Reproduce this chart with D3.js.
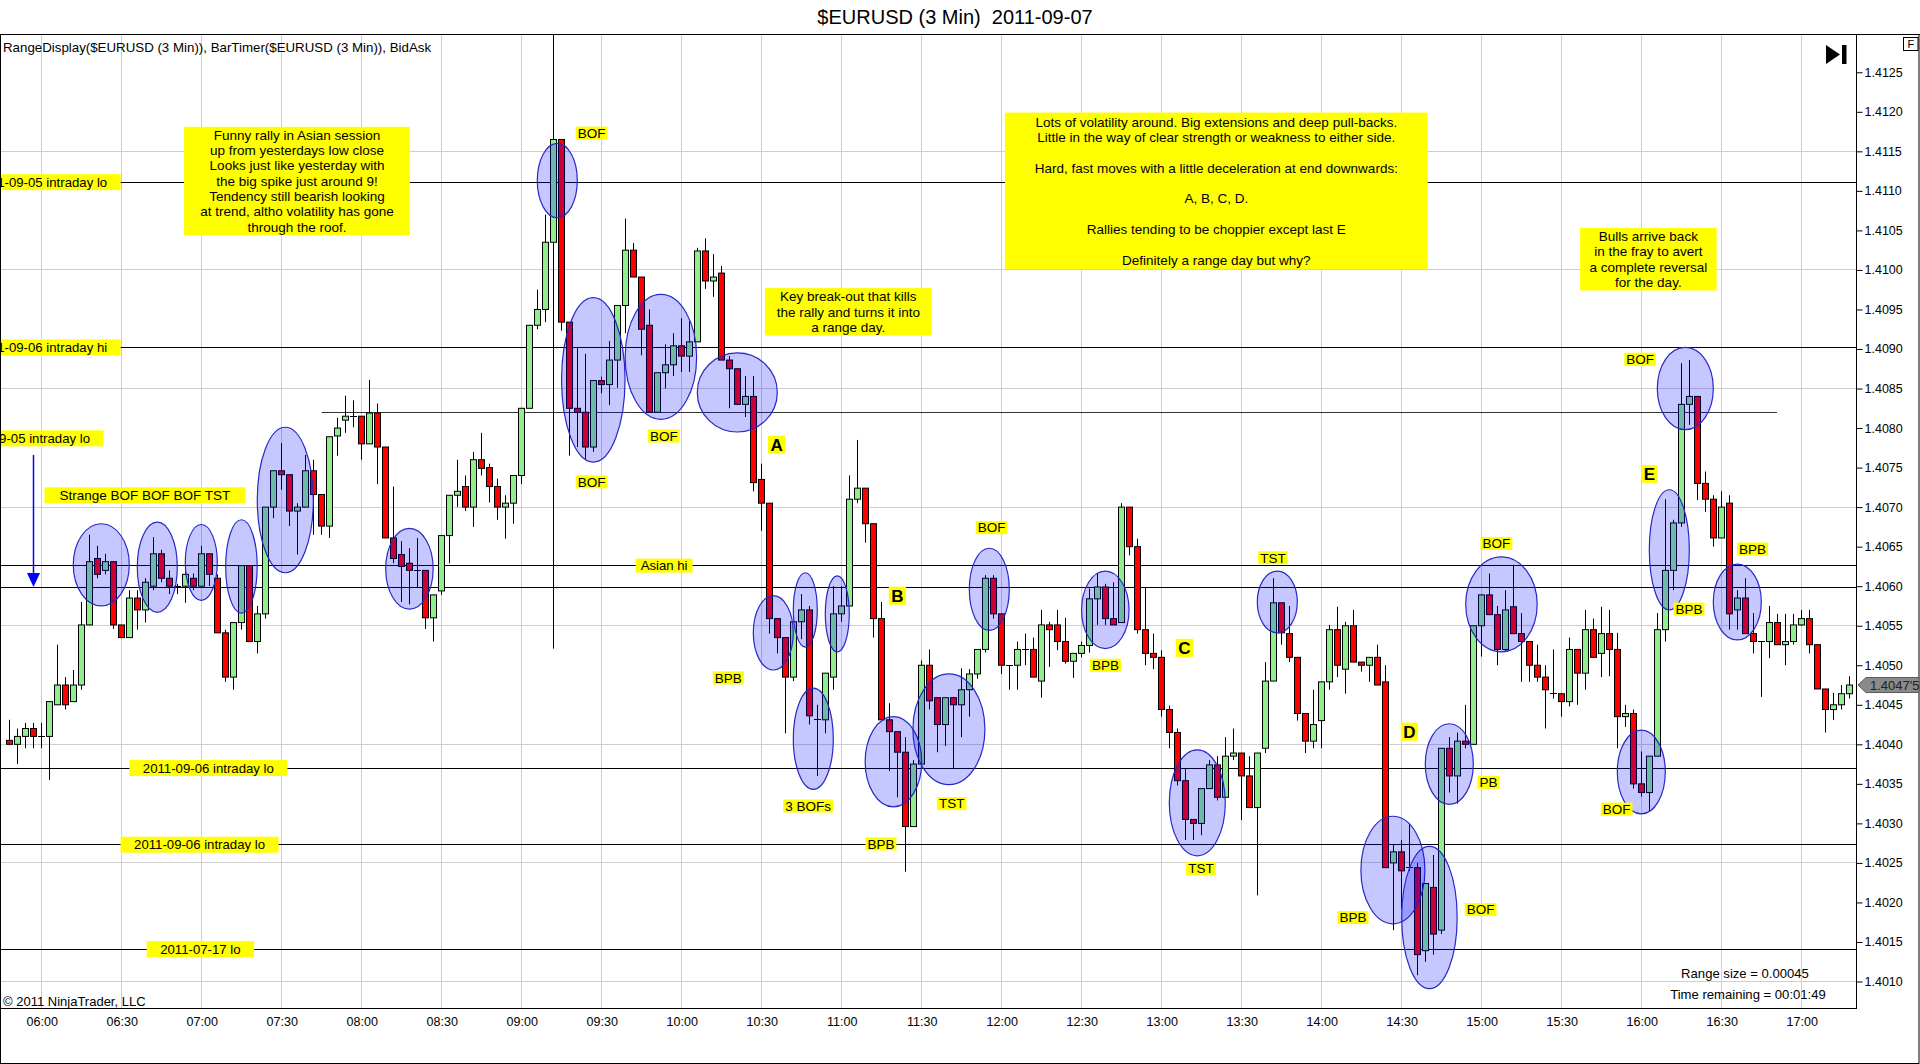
<!DOCTYPE html>
<html>
<head>
<meta charset="utf-8">
<title>$EURUSD (3 Min) 2011-09-07</title>
<script src="https://cdn.jsdelivr.net/npm/d3@7"></script>
<style>
  html, body { margin: 0; padding: 0; background: #fff; }
  svg { display: block; font-family: "Liberation Sans", Arial, sans-serif; }
</style>
</head>
<body>
<svg id="chart"></svg>
<script>
// 3 minute bars, first bar stamped 05:48
const firstBar = '05:48';
const barMinutes = 3;

const open = [
  1.40405,1.40400,1.40410,1.40420,1.40410,1.40410,1.40450,1.40475,1.40454,1.40475,
  1.40551,1.40635,1.40620,1.40631,1.40551,1.40535,1.40585,1.40570,1.40600,1.40641,
  1.40610,1.40600,1.40600,1.40610,1.40600,1.40641,1.40610,1.40541,1.40485,1.40554,
  1.40626,1.40530,1.40565,1.40700,1.40746,1.40741,1.40695,1.40700,1.40746,1.40716,
  1.40676,1.40790,1.40810,1.40815,1.40815,1.40780,1.40819,1.40776,1.40661,1.40640,
  1.40629,1.40620,1.40620,1.40560,1.40594,1.40664,1.40715,1.40726,1.40700,1.40760,
  1.40750,1.40726,1.40700,1.40705,1.40740,1.40825,1.40930,1.40950,1.41035,1.41165,
  1.40934,1.40825,1.40820,1.40776,1.40860,1.40855,1.40886,1.40955,1.41025,1.40991,
  1.40930,1.40820,1.40870,1.40880,1.40904,1.40891,1.40909,1.41024,1.40986,1.40996,
  1.40886,1.40875,1.40830,1.40840,1.40735,1.40705,1.40559,1.40535,1.40485,1.40555,
  1.40570,1.40431,1.40431,1.40485,1.40565,1.40575,1.40710,1.40724,1.40679,1.40559,
  1.40431,1.40416,1.40390,1.40296,1.40375,1.40500,1.40459,1.40425,1.40459,1.40450,
  1.40469,1.40489,1.40520,1.40610,1.40565,1.40500,1.40500,1.40520,1.40520,1.40480,
  1.40551,1.40551,1.40530,1.40505,1.40515,1.40525,1.40584,1.40599,1.40559,1.40554,
  1.40700,1.40650,1.40545,1.40515,1.40510,1.40444,1.40415,1.40354,1.40305,1.40300,
  1.40344,1.40374,1.40333,1.40385,1.40389,1.40360,1.40320,1.40395,1.40480,1.40579,
  1.40540,1.40510,1.40439,1.40404,1.40430,1.40479,1.40545,1.40495,1.40550,1.40504,
  1.40500,1.40510,1.40479,1.40250,1.40264,1.40244,1.40244,1.40139,1.40219,1.40165,
  1.40395,1.40360,1.40404,1.40400,1.40550,1.40589,1.40564,1.40520,1.40574,1.40540,
  1.40530,1.40500,1.40485,1.40464,1.40464,1.40454,1.40520,1.40490,1.40545,1.40515,
  1.40540,1.40520,1.40435,1.40439,1.40350,1.40339,1.40385,1.40545,1.40620,1.40680,
  1.40830,1.40840,1.40730,1.40710,1.40661,1.40705,1.40570,1.40585,1.40540,1.40530,
  1.40530,1.40554,1.40526,1.40530,1.40551,1.40559,1.40526,1.40470,1.40444,1.40450,
  1.40464
];
const high = [
  1.40431,1.40420,1.40427,1.40427,1.40427,1.40454,1.40526,1.40485,1.40494,1.40580,
  1.40665,1.40651,1.40641,1.40631,1.40551,1.40595,1.40595,1.40610,1.40662,1.40646,
  1.40620,1.40603,1.40626,1.40616,1.40651,1.40641,1.40615,1.40545,1.40554,1.40626,
  1.40626,1.40575,1.40700,1.40746,1.40781,1.40741,1.40705,1.40766,1.40760,1.40716,
  1.40789,1.40813,1.40841,1.40835,1.40815,1.40861,1.40831,1.40776,1.40726,1.40657,
  1.40648,1.40661,1.40620,1.40589,1.40664,1.40715,1.40760,1.40740,1.40770,1.40794,
  1.40755,1.40736,1.40715,1.40740,1.40825,1.40930,1.40975,1.41070,1.41165,1.41165,
  1.40934,1.40901,1.40894,1.40860,1.40865,1.40910,1.40955,1.41065,1.41034,1.40991,
  1.40950,1.40870,1.40906,1.40920,1.40939,1.40935,1.41028,1.41040,1.41020,1.41005,
  1.40891,1.40875,1.40866,1.40866,1.40755,1.40705,1.40559,1.40535,1.40555,1.40590,
  1.40575,1.40450,1.40490,1.40600,1.40600,1.40740,1.40785,1.40724,1.40679,1.40580,
  1.40452,1.40416,1.40409,1.40380,1.40506,1.40520,1.40459,1.40459,1.40460,1.40496,
  1.40495,1.40520,1.40614,1.40614,1.40565,1.40500,1.40530,1.40540,1.40535,1.40570,
  1.40555,1.40570,1.40560,1.40515,1.40530,1.40597,1.40616,1.40603,1.40605,1.40705,
  1.40700,1.40660,1.40599,1.40540,1.40519,1.40449,1.40420,1.40369,1.40305,1.40344,
  1.40380,1.40385,1.40409,1.40420,1.40389,1.40385,1.40389,1.40504,1.40610,1.40579,
  1.40575,1.40510,1.40439,1.40469,1.40479,1.40551,1.40574,1.40555,1.40570,1.40504,
  1.40510,1.40526,1.40500,1.40274,1.40279,1.40300,1.40250,1.40224,1.40260,1.40395,
  1.40409,1.40415,1.40450,1.40550,1.40589,1.40616,1.40575,1.40595,1.40627,1.40566,
  1.40530,1.40526,1.40500,1.40520,1.40464,1.40535,1.40520,1.40570,1.40559,1.40574,
  1.40570,1.40541,1.40450,1.40444,1.40391,1.40385,1.40566,1.40710,1.40684,1.40882,
  1.40886,1.40840,1.40745,1.40715,1.40720,1.40715,1.40595,1.40610,1.40566,1.40530,
  1.40575,1.40565,1.40565,1.40565,1.40570,1.40570,1.40526,1.40470,1.40465,1.40475,
  1.40486
];
const low = [
  1.40399,1.40375,1.40395,1.40395,1.40395,1.40355,1.40450,1.40444,1.40454,1.40469,
  1.40551,1.40610,1.40615,1.40546,1.40535,1.40535,1.40545,1.40554,1.40595,1.40605,
  1.40590,1.40590,1.40579,1.40595,1.40600,1.40600,1.40541,1.40479,1.40469,1.40545,
  1.40530,1.40515,1.40559,1.40686,1.40722,1.40676,1.40640,1.40700,1.40665,1.40665,
  1.40661,1.40765,1.40794,1.40801,1.40760,1.40780,1.40729,1.40661,1.40629,1.40580,
  1.40577,1.40598,1.40546,1.40530,1.40589,1.40629,1.40700,1.40695,1.40675,1.40740,
  1.40706,1.40684,1.40660,1.40679,1.40729,1.40825,1.40925,1.40934,1.41035,1.40923,
  1.40765,1.40776,1.40760,1.40770,1.40844,1.40829,1.40851,1.40920,1.40991,1.40892,
  1.40820,1.40820,1.40850,1.40866,1.40871,1.40871,1.40909,1.40976,1.40966,1.40886,
  1.40825,1.40829,1.40814,1.40720,1.40670,1.40540,1.40515,1.40414,1.40480,1.40533,
  1.40425,1.40360,1.40414,1.40469,1.40555,1.40575,1.40705,1.40655,1.40535,1.40431,
  1.40366,1.40333,1.40239,1.40296,1.40375,1.40444,1.40390,1.40398,1.40369,1.40409,
  1.40435,1.40483,1.40516,1.40559,1.40489,1.40469,1.40469,1.40500,1.40485,1.40459,
  1.40498,1.40519,1.40502,1.40484,1.40510,1.40516,1.40551,1.40551,1.40551,1.40554,
  1.40639,1.40540,1.40500,1.40495,1.40435,1.40395,1.40348,1.40279,1.40279,1.40285,
  1.40344,1.40329,1.40333,1.40380,1.40304,1.40320,1.40209,1.40389,1.40480,1.40526,
  1.40504,1.40430,1.40389,1.40395,1.40395,1.40469,1.40485,1.40464,1.40504,1.40492,
  1.40479,1.40475,1.40244,1.40165,1.40192,1.40240,1.40108,1.40125,1.40134,1.40160,
  1.40339,1.40325,1.40395,1.40400,1.40511,1.40564,1.40500,1.40517,1.40540,1.40479,
  1.40479,1.40479,1.40420,1.40458,1.40435,1.40448,1.40450,1.40469,1.40510,1.40485,
  1.40486,1.40395,1.40422,1.40344,1.40334,1.40315,1.40385,1.40530,1.40595,1.40675,
  1.40804,1.40709,1.40694,1.40650,1.40661,1.40545,1.40545,1.40540,1.40515,1.40460,
  1.40509,1.40526,1.40500,1.40526,1.40550,1.40515,1.40470,1.40415,1.40431,1.40444,
  1.40458
];
const close = [
  1.40400,1.40410,1.40420,1.40410,1.40410,1.40454,1.40475,1.40450,1.40475,1.40551,
  1.40631,1.40615,1.40631,1.40551,1.40535,1.40585,1.40570,1.40605,1.40641,1.40610,
  1.40600,1.40600,1.40615,1.40600,1.40641,1.40615,1.40541,1.40485,1.40554,1.40626,
  1.40530,1.40565,1.40700,1.40746,1.40741,1.40695,1.40700,1.40746,1.40716,1.40676,
  1.40789,1.40800,1.40815,1.40815,1.40780,1.40819,1.40776,1.40661,1.40635,1.40625,
  1.40620,1.40620,1.40560,1.40589,1.40664,1.40715,1.40720,1.40700,1.40760,1.40749,
  1.40726,1.40700,1.40705,1.40740,1.40825,1.40930,1.40950,1.41035,1.41165,1.40934,
  1.40825,1.40820,1.40776,1.40860,1.40855,1.40886,1.40955,1.41025,1.40991,1.40925,
  1.40820,1.40870,1.40880,1.40904,1.40891,1.40909,1.41024,1.40986,1.40991,1.40886,
  1.40875,1.40830,1.40840,1.40731,1.40705,1.40559,1.40535,1.40485,1.40555,1.40570,
  1.40436,1.40431,1.40490,1.40565,1.40575,1.40710,1.40724,1.40679,1.40559,1.40431,
  1.40416,1.40390,1.40296,1.40375,1.40500,1.40455,1.40425,1.40459,1.40450,1.40469,
  1.40489,1.40520,1.40610,1.40565,1.40500,1.40500,1.40520,1.40520,1.40485,1.40551,
  1.40545,1.40530,1.40505,1.40515,1.40525,1.40584,1.40599,1.40559,1.40551,1.40700,
  1.40650,1.40545,1.40515,1.40510,1.40444,1.40415,1.40354,1.40305,1.40300,1.40344,
  1.40374,1.40333,1.40385,1.40389,1.40360,1.40320,1.40389,1.40480,1.40579,1.40541,
  1.40510,1.40439,1.40404,1.40425,1.40479,1.40545,1.40500,1.40550,1.40504,1.40500,
  1.40510,1.40475,1.40244,1.40264,1.40240,1.40244,1.40134,1.40224,1.40160,1.40395,
  1.40360,1.40404,1.40400,1.40550,1.40589,1.40564,1.40520,1.40570,1.40540,1.40530,
  1.40500,1.40485,1.40469,1.40464,1.40454,1.40520,1.40490,1.40545,1.40510,1.40540,
  1.40520,1.40435,1.40439,1.40350,1.40339,1.40385,1.40545,1.40620,1.40680,1.40830,
  1.40840,1.40730,1.40710,1.40661,1.40700,1.40565,1.40585,1.40540,1.40530,1.40530,
  1.40554,1.40526,1.40530,1.40551,1.40559,1.40526,1.40470,1.40444,1.40450,1.40464,
  1.40475
];
const lastPrice = "1.4047'5";
const rangeSize = '0.00045';
const timeRemaining = '00:01:49';

// visible window and tick labels
const viewStart = '05:44:22';
const viewEnd = '17:20:44';
const priceMin = 1.400665;
const priceMax = 1.412984;
const timeTicks = ['06:00','06:30','07:00','07:30','08:00','08:30','09:00','09:30','10:00','10:30','11:00','11:30',
  '12:00','12:30','13:00','13:30','14:00','14:30','15:00','15:30','16:00','16:30','17:00'];
const priceTicks = [1.4010,1.4015,1.4020,1.4025,1.4030,1.4035,1.4040,1.4045,1.4050,1.4055,1.4060,1.4065,
  1.4070,1.4075,1.4080,1.4085,1.4090,1.4095,1.4100,1.4105,1.4110,1.4115,1.4120,1.4125];
const gridPrices = [1.4010,1.4025,1.4040,1.4055,1.4070,1.4085,1.4100,1.4115];

// drawn horizontal levels (from/to empty = whole chart)
const levels = [
  {price: 1.41111, label: '2011-09-05 intraday lo', labelAt: '06:00:00'},
  {price: 1.40902, label: '2011-09-06 intraday hi', labelAt: '06:00:00'},
  {price: 1.40820, from: '07:45:00', to: '16:50:42'},
  {price: 1.40626, label: 'Asian hi', labelAt: '09:53:24', short: true},
  {price: 1.40598},
  {price: 1.40370, label: '2011-09-06 intraday lo', labelAt: '07:02:30'},
  {price: 1.40273, label: '2011-09-06 intraday lo', labelAt: '06:59:12'},
  {price: 1.40141, label: '2011-07-17 lo', labelAt: '06:59:30'}
];
const looseLabels = [
  {price: 1.40787, label: '2011-09-05 intraday lo', labelAt: '05:53:33'}
];
const markerTime = '09:12:00';
const markerLow = 1.40521;
const arrow = {time: '05:56:54', from: 1.40766, to: 1.40599};

// circled areas: time span and price span
const circles = [
  {from: '06:11:51', to: '06:32:51', top: 1.40679, bottom: 1.40575},
  {from: '06:35:51', to: '06:50:51', top: 1.40681, bottom: 1.40567},
  {from: '06:53:51', to: '07:05:51', top: 1.40678, bottom: 1.40582},
  {from: '07:09:00', to: '07:20:48', top: 1.40684, bottom: 1.40566},
  {from: '07:20:51', to: '07:41:51', top: 1.40801, bottom: 1.40617},
  {from: '08:09:00', to: '08:26:48', top: 1.40673, bottom: 1.40571},
  {from: '09:05:51', to: '09:20:51', top: 1.41160, bottom: 1.41066},
  {from: '09:14:57', to: '09:38:45', top: 1.40965, bottom: 1.40757},
  {from: '09:38:48', to: '10:05:36', top: 1.40969, bottom: 1.40811},
  {from: '10:05:51', to: '10:35:51', top: 1.40895, bottom: 1.40795},
  {from: '10:26:51', to: '10:41:51', top: 1.40588, bottom: 1.40494},
  {from: '10:41:51', to: '10:50:51', top: 1.40617, bottom: 1.40523},
  {from: '10:41:51', to: '10:56:51', top: 1.40471, bottom: 1.40343},
  {from: '10:53:51', to: '11:02:51', top: 1.40613, bottom: 1.40517},
  {from: '11:08:48', to: '11:30:00', top: 1.40435, bottom: 1.40321},
  {from: '11:26:42', to: '11:53:42', top: 1.40489, bottom: 1.40349},
  {from: '11:47:51', to: '12:02:51', top: 1.40648, bottom: 1.40544},
  {from: '12:29:57', to: '12:47:45', top: 1.40619, bottom: 1.40521},
  {from: '13:02:51', to: '13:23:51', top: 1.40393, bottom: 1.40259},
  {from: '13:35:51', to: '13:50:51', top: 1.40619, bottom: 1.40541},
  {from: '14:14:42', to: '14:38:42', top: 1.40309, bottom: 1.40173},
  {from: '14:30:00', to: '14:50:48', top: 1.40271, bottom: 1.40091},
  {from: '14:38:51', to: '14:56:51', top: 1.40426, bottom: 1.40324},
  {from: '14:54:00', to: '15:20:48', top: 1.40637, bottom: 1.40517},
  {from: '15:50:51', to: '16:08:51', top: 1.40418, bottom: 1.40312},
  {from: '16:02:51', to: '16:17:51', top: 1.40722, bottom: 1.40570},
  {from: '16:05:51', to: '16:26:51', top: 1.40902, bottom: 1.40798},
  {from: '16:26:51', to: '16:44:51', top: 1.40628, bottom: 1.40532}
];

// short yellow tags, centred on time / price
const tags = [
  {text: 'BOF', time: '09:26:12', price: 1.41173},
  {text: 'BOF', time: '09:26:12', price: 1.40732},
  {text: 'BOF', time: '09:53:18', price: 1.40790},
  {text: 'BPB', time: '10:17:30', price: 1.40484},
  {text: '3 BOFs', time: '10:47:24', price: 1.40322},
  {text: 'BPB', time: '11:14:42', price: 1.40274},
  {text: 'TST', time: '11:41:15', price: 1.40325},
  {text: 'BOF', time: '11:56:15', price: 1.40674},
  {text: 'BPB', time: '12:38:54', price: 1.40500},
  {text: 'TST', time: '13:14:42', price: 1.40243},
  {text: 'TST', time: '13:41:42', price: 1.40636},
  {text: 'BPB', time: '14:11:42', price: 1.40181},
  {text: 'BOF', time: '14:59:36', price: 1.40191},
  {text: 'PB', time: '15:02:33', price: 1.40352},
  {text: 'BOF', time: '15:05:30', price: 1.40654},
  {text: 'BOF', time: '15:50:36', price: 1.40318},
  {text: 'BOF', time: '15:59:24', price: 1.40887},
  {text: 'BPB', time: '16:17:42', price: 1.40571},
  {text: 'BPB', time: '16:41:33', price: 1.40647}
];
const legs = [
  {text: 'A', time: '10:35:36', price: 1.40779},
  {text: 'B', time: '11:20:54', price: 1.40588},
  {text: 'C', time: '13:08:33', price: 1.40522},
  {text: 'D', time: '14:32:54', price: 1.40416},
  {text: 'E', time: '16:02:54', price: 1.40742}
];
const banner = {text: 'Strange BOF BOF BOF TST', time: '06:38:42', price: 1.40715};

const notes = [
  {from: '06:53:24', to: '08:18:06', top: 1.41181, bottom: 1.41044, lines: [
    'Funny rally in Asian session', 'up from yesterdays low close', 'Looks just like yesterday with',
    'the big spike just around 9!', 'Tendency still bearish looking', 'at trend, altho volatility has gone',
    'through the roof.']},
  {from: '10:31:12', to: '11:33:45', top: 1.40977, bottom: 1.40917, lines: [
    'Key break-out that kills', 'the rally and turns it into', 'a range day.']},
  {from: '12:01:12', to: '14:39:45', top: 1.41199, bottom: 1.41001, lines: [
    'Lots of volatility around. Big extensions and deep pull-backs.',
    'Little in the way of clear strength or weakness to either side.', '',
    'Hard, fast moves with a little deceleration at end downwards:', '',
    'A, B, C, D.', '', 'Rallies tending to be choppier except last E', '',
    'Definitely a range day but why?']},
  {from: '15:36:54', to: '16:28:06', top: 1.41053, bottom: 1.40974, lines: [
    'Bulls arrive back', 'in the fray to avert', 'a complete reversal', 'for the day.']}
];

// ---------------------------------------------------------------
const width = 1920, height = 1064;
const plot = {left: 0, top: 34, right: 1857, bottom: 1008};
const YELLOW = '#ffff00';
const FS = 12.5;     // axis text
const NOTE_FS = 13.5; // annotation text
const crisp = v => Math.floor(v) + 0.5;

const parseTime = d3.timeParse('%H:%M:%S');
const tp = s => parseTime(s.length === 5 ? s + ':00' : s);

const x = d3.scaleTime()
    .domain([tp(viewStart), tp(viewEnd)])
    .range([plot.left, plot.right]);
const y = d3.scaleLinear()
    .domain([priceMin, priceMax])
    .range([plot.bottom, plot.top]);

const bars = open.map((o, i) => ({
    t: d3.timeMinute.offset(tp(firstBar), i * barMinutes),
    o: o, h: high[i], l: low[i], c: close[i]
}));

const svg = d3.select('#chart')
    .attr('width', width)
    .attr('height', height);

svg.append('rect').attr('width', width).attr('height', height).attr('fill', '#fff');

svg.append('defs').append('clipPath').attr('id', 'plotClip')
  .append('rect')
    .attr('x', plot.left).attr('y', plot.top)
    .attr('width', plot.right - plot.left).attr('height', plot.bottom - plot.top);

const chart = svg.append('g').attr('clip-path', 'url(#plotClip)');

// grid
chart.append('g').selectAll('line')
  .data(timeTicks)
  .join('line')
    .attr('x1', d => crisp(x(tp(d)))).attr('x2', d => crisp(x(tp(d))))
    .attr('y1', plot.top).attr('y2', plot.bottom)
    .attr('stroke', '#cfcfcf');
chart.append('g').selectAll('line')
  .data(gridPrices)
  .join('line')
    .attr('x1', plot.left).attr('x2', plot.right)
    .attr('y1', d => crisp(y(d))).attr('y2', d => crisp(y(d)))
    .attr('stroke', '#cfcfcf');

// level lines
chart.append('g').selectAll('line')
  .data(levels)
  .join('line')
    .attr('x1', d => d.from ? x(tp(d.from)) : plot.left)
    .attr('x2', d => d.to ? x(tp(d.to)) : plot.right)
    .attr('y1', d => crisp(y(d.price))).attr('y2', d => crisp(y(d.price)))
    .attr('stroke', d => d.from ? '#333' : '#000');

chart.append('line')
    .attr('x1', crisp(x(tp(markerTime)))).attr('x2', crisp(x(tp(markerTime))))
    .attr('y1', plot.top).attr('y2', y(markerLow))
    .attr('stroke', '#000');

// candles
const candle = chart.append('g').selectAll('g')
  .data(bars)
  .join('g')
    .attr('transform', d => `translate(${Math.floor(x(d.t))},0)`);

candle.append('line')
    .attr('x1', 0.5).attr('x2', 0.5)
    .attr('y1', d => y(d.h)).attr('y2', d => y(d.l))
    .attr('stroke', '#000');

candle.filter(d => Math.abs(d.o - d.c) < 0.000005)
  .append('line')
    .attr('x1', -3).attr('x2', 4)
    .attr('y1', d => crisp(y(d.o))).attr('y2', d => crisp(y(d.o)))
    .attr('stroke', '#000');

candle.filter(d => Math.abs(d.o - d.c) >= 0.000005)
  .append('rect')
    .attr('x', -2.5).attr('width', 6)
    .attr('y', d => y(Math.max(d.o, d.c)))
    .attr('height', d => Math.max(1, y(Math.min(d.o, d.c)) - y(Math.max(d.o, d.c))))
    .attr('fill', d => d.c > d.o ? '#90ee90' : '#ff0000')
    .attr('stroke', '#000');

// circled areas
chart.append('g').selectAll('ellipse')
  .data(circles)
  .join('ellipse')
    .attr('cx', d => (x(tp(d.from)) + x(tp(d.to))) / 2)
    .attr('cy', d => (y(d.top) + y(d.bottom)) / 2)
    .attr('rx', d => (x(tp(d.to)) - x(tp(d.from))) / 2)
    .attr('ry', d => (y(d.bottom) - y(d.top)) / 2)
    .attr('fill', 'rgba(0,0,255,0.22)')
    .attr('stroke', 'rgb(40,40,200)')
    .attr('stroke-width', 1.2);

// arrow
const ax = crisp(x(tp(arrow.time)));
const tipY = y(arrow.to);
chart.append('line')
    .attr('x1', ax).attr('x2', ax)
    .attr('y1', y(arrow.from)).attr('y2', tipY - 12)
    .attr('stroke', '#0000ff').attr('stroke-width', 1.5);
chart.append('path')
    .attr('d', `M${ax - 6.5},${tipY - 14}L${ax + 6.5},${tipY - 14}L${ax},${tipY}Z`)
    .attr('fill', '#0000ff');

// yellow labels
function yellowLabel(parent, d, opt) {
    const g = parent.append('g');
    const cx = x(tp(d.time || d.labelAt));
    const cy = y(d.price);
    const t = g.append('text')
        .attr('x', cx).attr('y', cy + opt.base)
        .attr('text-anchor', 'middle')
        .attr('font-size', opt.size)
        .attr('font-weight', opt.bold ? 'bold' : null)
        .attr('fill', '#000')
        .text(d.text || d.label);
    const w = t.node().getComputedTextLength() + opt.pad;
    g.insert('rect', 'text')
        .attr('x', cx - w / 2).attr('y', cy - opt.h / 2)
        .attr('width', w).attr('height', opt.h)
        .attr('fill', YELLOW);
}

const labelG = chart.append('g');
levels.concat(looseLabels).filter(d => d.label).forEach(d =>
    yellowLabel(labelG, d, d.short
        ? {size: 13.2, base: 4.7, pad: 10, h: 14}
        : {size: 13.2, base: 4.7, pad: 27, h: 16}));
tags.forEach(d => yellowLabel(labelG, d, {size: NOTE_FS, base: 4.8, pad: 4, h: 13}));
legs.forEach(d => yellowLabel(labelG, d, {size: 17, base: 6, pad: 5, h: 18, bold: true}));
yellowLabel(labelG, banner, {size: NOTE_FS, base: 4.8, pad: 30, h: 16});

// notes
const note = labelG.selectAll('g.note')
  .data(notes)
  .join('g')
    .attr('class', 'note');
note.append('rect')
    .attr('x', d => x(tp(d.from))).attr('y', d => y(d.top))
    .attr('width', d => x(tp(d.to)) - x(tp(d.from)))
    .attr('height', d => y(d.bottom) - y(d.top))
    .attr('fill', YELLOW);
note.each(function(d) {
    const cx = (x(tp(d.from)) + x(tp(d.to))) / 2;
    const cy = (y(d.top) + y(d.bottom)) / 2;
    const n = d.lines.length;
    d3.select(this).selectAll('text')
      .data(d.lines)
      .join('text')
        .attr('x', cx)
        .attr('y', (s, k) => cy + (k - (n - 1) / 2) * 15.3 + 4.8)
        .attr('text-anchor', 'middle')
        .attr('font-size', NOTE_FS)
        .attr('fill', '#000')
        .text(s => s);
});

// axes
const yAxis = d3.axisRight(y)
    .tickValues(priceTicks)
    .tickSize(6)
    .tickPadding(2)
    .tickFormat(d3.format('.4f'));
svg.append('g')
    .attr('transform', `translate(${plot.right - 0.5},0)`)
    .call(yAxis)
    .call(g => g.select('.domain').remove())
    .call(g => g.attr('font-size', FS).attr('font-family', null));

const xAxis = d3.axisBottom(x)
    .tickValues(timeTicks.map(tp))
    .tickSize(0)
    .tickPadding(9)
    .tickFormat(d3.timeFormat('%H:%M'));
svg.append('g')
    .attr('transform', `translate(0,${plot.bottom})`)
    .call(xAxis)
    .call(g => g.select('.domain').remove())
    .call(g => g.attr('font-size', FS).attr('font-family', null));

// frame
svg.append('line').attr('x1', 0).attr('x2', width).attr('y1', plot.top + 0.5).attr('y2', plot.top + 0.5).attr('stroke', '#000');
svg.append('line').attr('x1', 0).attr('x2', plot.right).attr('y1', plot.bottom + 0.5).attr('y2', plot.bottom + 0.5).attr('stroke', '#000');
svg.append('line').attr('x1', plot.right - 0.5).attr('x2', plot.right - 0.5).attr('y1', plot.top).attr('y2', plot.bottom + 1).attr('stroke', '#000');
svg.append('rect')
    .attr('x', 0.5).attr('y', plot.top + 0.5)
    .attr('width', width - 1.5).attr('height', height - plot.top - 1)
    .attr('fill', 'none').attr('stroke', '#000');

// last price marker
const ly = y(close[close.length - 1]);
svg.append('path')
    .attr('d', `M${plot.right + 1},${ly}L${plot.right + 9},${ly - 7.5}L${width - 1},${ly - 7.5}L${width - 1},${ly + 7.5}L${plot.right + 9},${ly + 7.5}Z`)
    .attr('fill', '#8a8a8a').attr('stroke', '#5a5a5a');
svg.append('text')
    .attr('x', plot.right + 13).attr('y', ly + 4.6)
    .attr('font-size', 13).attr('fill', '#222')
    .text(lastPrice);

// texts
svg.append('text')
    .attr('x', 955).attr('y', 24)
    .attr('text-anchor', 'middle')
    .attr('font-size', 20)
    .text('$EURUSD (3 Min)\u00a0 2011-09-07');
svg.append('text')
    .attr('x', 3).attr('y', 52)
    .attr('font-size', 13.3)
    .text('RangeDisplay($EURUSD (3 Min)), BarTimer($EURUSD (3 Min)), BidAsk');
svg.append('text')
    .attr('x', 3).attr('y', 1005.5)
    .attr('font-size', 13)
    .text('\u00a9 2011 NinjaTrader, LLC');
svg.append('text')
    .attr('x', 1745).attr('y', 977.5)
    .attr('text-anchor', 'middle')
    .attr('font-size', 13.1)
    .text('Range size = ' + rangeSize);
svg.append('text')
    .attr('x', 1748).attr('y', 998.5)
    .attr('text-anchor', 'middle')
    .attr('font-size', 13.1)
    .text('Time remaining = ' + timeRemaining);

// toolbar glyphs
svg.append('path').attr('d', 'M1826,45L1840,54.5L1826,64Z').attr('fill', '#000');
svg.append('rect').attr('x', 1842).attr('y', 45).attr('width', 4.5).attr('height', 19).attr('fill', '#000');
svg.append('rect').attr('x', 1903.5).attr('y', 37.5).attr('width', 14.5).attr('height', 13)
    .attr('fill', '#fff').attr('stroke', '#000');
svg.append('text').attr('x', 1910.8).attr('y', 48.3).attr('text-anchor', 'middle')
    .attr('font-size', 11).text('F');
</script>
</body>
</html>
